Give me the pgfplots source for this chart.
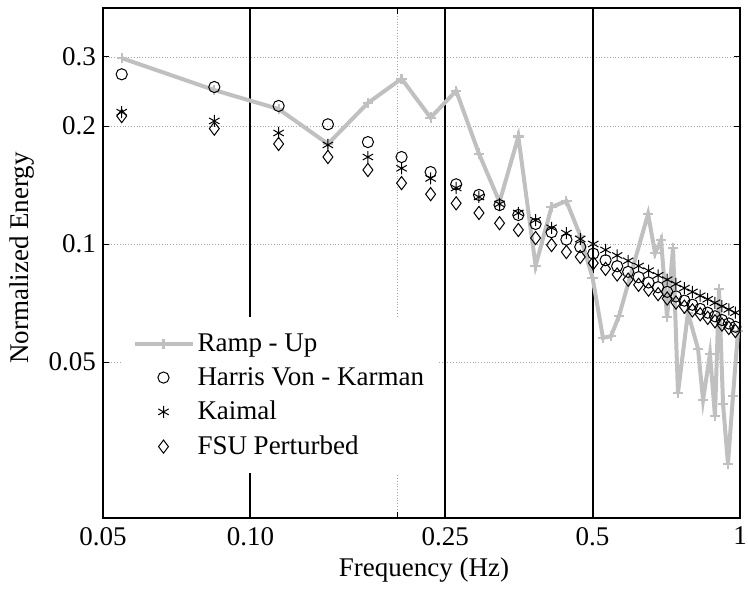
\documentclass[border=0pt]{standalone}
\usepackage{fontspec}
\setmainfont{Liberation Serif}
\usepackage{pgfplots}
\usepackage{pgfplotstable}
\pgfplotsset{compat=1.18}
\definecolor{rampgray}{RGB}{192,192,192}
\pgfplotsset{legend image code/.code={\draw[mark repeat=2,mark phase=2,#1] plot coordinates {(0pt,0pt)(14.5pt,0pt)(29pt,0pt)};}}

\pgfplotstableread{
f       harris  kaimal  fsu
0.0546  0.271   0.217   0.212
0.0844  0.2515  0.206   0.197
0.1142  0.225   0.192   0.180
0.1440  0.202   0.179   0.1667
0.1738  0.182   0.1667  0.1545
0.2036  0.1667  0.156   0.143
0.2334  0.1526  0.147   0.134
0.2632  0.142   0.139   0.127
0.2930  0.1334  0.1318  0.120
0.3228  0.1257  0.1265  0.113
0.3526  0.1186  0.120   0.1086
0.3824  0.1125  0.115   0.1036
0.4122  0.1072  0.110   0.0994
0.4420  0.1026  0.1066  0.0954
0.4718  0.0983  0.103   0.0927
0.5016  0.0945  0.100   0.0894
0.5314  0.0909  0.0966  0.0864
0.5612  0.0878  0.0935  0.0836
0.5910  0.0849  0.0906  0.0811
0.6208  0.0823  0.0879  0.0787
0.6506  0.0798  0.0855  0.0765
0.6804  0.0776  0.0832  0.0745
0.7102  0.0755  0.0811  0.0726
0.7400  0.0735  0.0791  0.0709
0.7698  0.0717  0.0772  0.0692
0.7996  0.0700  0.0755  0.0677
0.8294  0.0683  0.0738  0.0662
0.8592  0.0668  0.0723  0.0648
0.8890  0.0654  0.0708  0.0635
0.9188  0.0640  0.0694  0.0623
0.9486  0.0627  0.0681  0.0611
0.9784  0.0615  0.0668  0.0600
}\models

\pgfplotstableread{
f       e
0.0546  0.298
0.0844  0.247
0.1142  0.221
0.1440  0.180
0.1738  0.229
0.2036  0.264
0.2334  0.210
0.2632  0.246
0.2930  0.170
0.3228  0.128
0.3526  0.188
0.3824  0.088
0.4122  0.1243
0.4420  0.1287
0.4718  0.105
0.5000  0.0819
0.5250  0.0576
0.5452  0.0582
0.5660  0.0655
0.6490  0.1193
0.6707  0.0948
0.6900  0.1024
0.7096  0.0651
0.7300  0.0977
0.7470  0.0417
0.7830  0.0667
0.8210  0.0540
0.8405  0.0400
0.8683  0.0524
0.8890  0.0364
0.9060  0.0768
0.9234  0.0391
0.9450  0.0275
0.9676  0.0410
0.9910  0.0600
}\ramp

\begin{document}
\begin{tikzpicture}
\path[use as bounding box] (-51.5pt,-37pt) rectangle (322.5pt,259pt);
\begin{axis}[
  at={(0pt,0pt)}, anchor=south west,
  scale only axis, width=318.5pt, height=255pt,
  xmode=log, ymode=log,
  xmin=0.05, xmax=1, ymin=0.02, ymax=0.4,
  xtick={0.05,0.1,0.2,0.25,0.5,1},
  xticklabels={0.05,0.10,,0.25,0.5,1},
  ytick={0.05,0.1,0.2,0.3},
  yticklabels={0.05,0.1,0.2,0.3},
  minor xtick={}, minor ytick={},
  tick align=inside, major tick length=3pt,
  xtick pos=both, ytick pos=both,
  xmajorgrids, ymajorgrids,
  grid style={densely dotted, gray!70, line width=0.4pt},
  axis line style={line width=0.8pt},
  every tick/.style={black, line width=0.5pt},
  tick label style={font=\fontsize{13.5}{16}\selectfont},
  xticklabel style={yshift=-1pt},
  label style={font=\fontsize{13.5}{16}\selectfont},
  xlabel={Frequency (Hz)},
  ylabel={Normalized Energy},
  xlabel style={at={(axis description cs:0.504,-0.102)}, anchor=center},
  ylabel style={at={(axis description cs:-0.1264,0.51)}, anchor=center},
  legend style={at={(axis description cs:0.03,0.394)}, anchor=north west,
    draw=none, fill=white, font=\fontsize{13.5}{16}\selectfont,
    inner xsep=5pt, inner ysep=6.5pt, row sep=3.5pt,
    nodes={inner sep=1.5pt}},
  legend cell align=left,
]
\draw[black, line width=1pt] (axis cs:0.1,0.02) -- (axis cs:0.1,0.4);
\draw[black, line width=1pt] (axis cs:0.25,0.02) -- (axis cs:0.25,0.4);
\draw[black, line width=1pt] (axis cs:0.5,0.02) -- (axis cs:0.5,0.4);

\addplot[rampgray, line width=2pt, mark=+, mark size=2.6pt,
  mark options={line width=1.1pt}]
  table[x=f,y=e] {\ramp};
\addlegendentry{Ramp - Up}

\addplot[black, only marks, mark=o, mark size=2.8pt, mark options={line width=0.5pt}]
  table[x=f,y=harris] {\models};
\addlegendentry{Harris Von - Karman}

\addplot[black, only marks, mark=asterisk, mark size=3pt, mark options={line width=0.5pt}]
  table[x=f,y=kaimal] {\models};
\addlegendentry{Kaimal}

\addplot[black, only marks, mark=diamond, mark size=3.3pt, mark options={line width=0.5pt}]
  table[x=f,y=fsu] {\models};
\addlegendentry{FSU Perturbed}
\end{axis}
\end{tikzpicture}
\end{document}
